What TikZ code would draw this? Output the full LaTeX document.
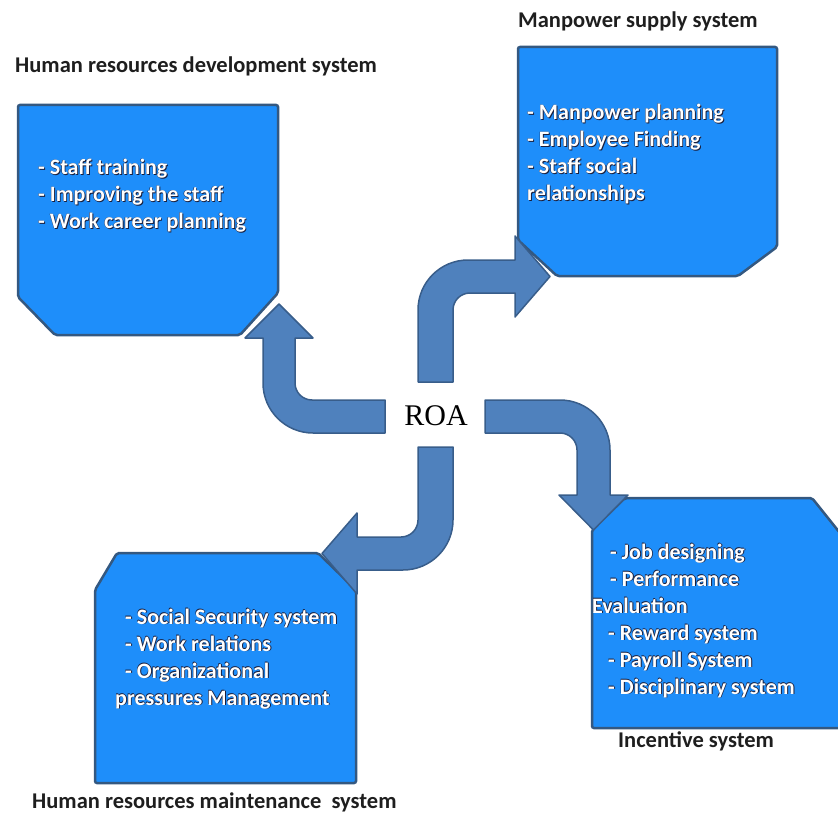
\documentclass[tikz,border=0pt]{standalone}
\usepackage{fontspec}
\setmainfont{Carlito}
\newfontfamily\roafont{Liberation Serif}
\definecolor{boxblue}{RGB}{30,142,250}
\definecolor{boxedge}{RGB}{52,88,128}
\definecolor{arrowblue}{RGB}{79,129,189}
\definecolor{arrowedge}{RGB}{56,93,138}
\definecolor{txtedge}{RGB}{25,30,60}
\definecolor{titlegray}{RGB}{30,30,30}
\newcommand\shadowed[1]{\leavevmode\rlap{\color{txtedge}\kern0.9pt\raisebox{-0.9pt}{#1}}\rlap{\color{txtedge}\kern-0.4pt\raisebox{0.4pt}{#1}}#1}
\newcommand\li[2][0pt]{\hbox{\hspace*{#1}\shadowed{#2}}}
\begin{document}
\begin{tikzpicture}[x=1pt,y=-1pt,
    sysbox/.style={fill=boxblue,draw=boxedge,line width=2.5pt,rounded corners=2pt},
    bentarrow/.style={fill=arrowblue,draw=arrowedge,line width=1.5pt,line join=round},
    systitle/.style={anchor=base west,inner sep=0pt,text=titlegray,font=\bfseries\fontsize{22.5}{26}\selectfont},
    syslist/.style={anchor=base west,inner sep=0pt,text=white,font=\bfseries\fontsize{22}{27}\selectfont}]
  \useasboundingbox (0,0) rectangle (838,813);
  \clip (0,0) rectangle (838,813);

  % the four system boxes
  \draw[sysbox] (18,105) -- (278,105) -- (278,293) -- (240,335) -- (55,335) -- (18,297) -- cycle;
  \draw[sysbox] (518,47) -- (777,47) -- (777,247) -- (738,276) -- (557,276) -- (518,240) -- cycle;
  \draw[sysbox] (117,553) -- (318,553) -- (356,590) -- (356,783) -- (95,783) -- (95,590) -- cycle;
  \draw[sysbox] (625,498) -- (812,498) -- (848,543) -- (848,728) -- (592,728) -- (592,530) -- cycle;

  % bent arrows out of ROA
  \draw[bentarrow] (385,400) -- (312,400) arc (90:180:17) -- (295,338) -- (313,338) -- (279,304)
    -- (245,338) -- (263,338) -- (263,383) arc (180:90:50) -- (385,433) -- cycle;
  \draw[bentarrow] (418,382) -- (418,310) arc (180:270:50) -- (515,260) -- (515,236) -- (550,276.5)
    -- (515,317) -- (515,293) -- (470,293) arc (270:180:17) -- (453,382) -- cycle;
  \draw[bentarrow] (485,400) -- (560,400) arc (270:360:50) -- (610,495) -- (628,495) -- (593.5,530)
    -- (559,495) -- (577,495) -- (577,450) arc (0:-90:17) -- (485,433) -- cycle;
  \draw[bentarrow] (418,447) -- (418,520) arc (0:90:17) -- (357,537) -- (357,513) -- (322,553.5)
    -- (357,594) -- (357,570) -- (403,570) arc (90:0:50) -- (453,447) -- cycle;

  \node[font=\roafont\fontsize{30}{36}\selectfont] (roa) at (436,416) {ROA};

  % titles
  \node[systitle] (devtitle) at (15,73) {Human resources development system};
  \node[systitle] (suptitle) at (518,28) {Manpower supply system};
  \node[systitle] (maintitle) at (32,808) {Human resources maintenance\ \ system};
  \node[systitle] (inctitle) at (618,747) {Incentive system};

  % box contents
  \node[syslist] (devlist) at (38,175) {\vtop{\li{- Staff training}\li{- Improving the staff}
    \li{- Work career planning}}};
  \node[syslist] (suplist) at (527,120) {\vtop{\li{- Manpower planning}\li{- Employee Finding}
    \li{- Staff social}\li{relationships}}};
  \node[syslist] (mainlist) at (115,624) {\vtop{\li[10pt]{- Social Security system}
    \li[10pt]{- Work relations}\li[10pt]{- Organizational}\li{pressures Management}}};
  \node[syslist] (inclist) at (592,559) {\vtop{\li[18pt]{- Job designing}\li[18pt]{- Performance}
    \li{Evaluation}\li[16pt]{- Reward system}\li[16pt]{- Payroll System}
    \li[16pt]{- Disciplinary system}}};
\end{tikzpicture}
\end{document}
